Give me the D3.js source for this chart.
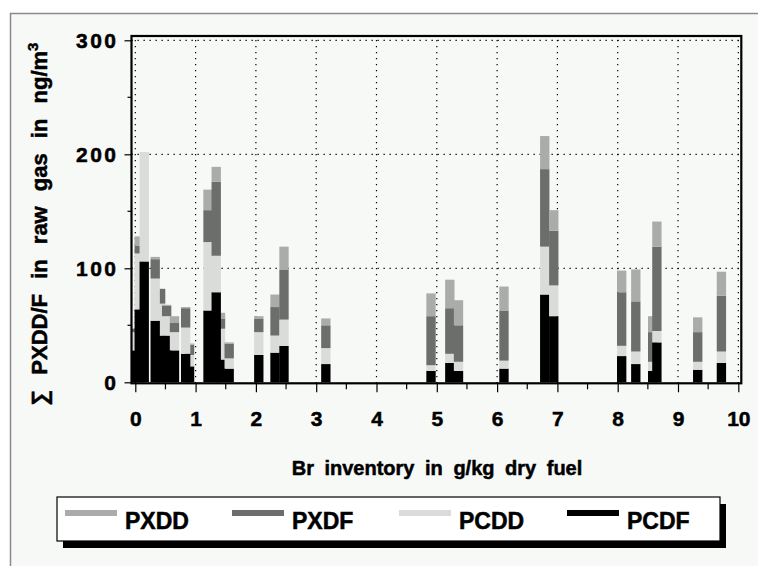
<!DOCTYPE html>
<html>
<head>
<meta charset="utf-8">
<script src="https://cdn.jsdelivr.net/npm/d3@7"></script>
<style>
  html, body { margin: 0; padding: 0; background: #ffffff; }
  svg { display: block; font-family: "Liberation Sans", Arial, sans-serif; font-weight: bold; }
</style>
</head>
<body>
<div id="chart"></div>
<script>
// Br inventory (x) of each measurement, in drawing order (later bars overlap earlier ones)
const brInventory = [-0.01, 0.065, 0.148, 0.42, 0.33, 0.52, 0.65, 0.90, 0.835, 1.206, 1.413, 1.342, 1.557,
  2.048, 2.317, 2.466, 3.16, 4.904, 5.216, 5.36, 6.114, 6.79, 6.94, 8.066, 8.30, 8.58, 8.65, 9.327, 9.72];

// stacked values in ng/m3, from bottom to top
const pcdf = [28, 64, 106, 41, 54, 41, 28, 14, 25, 63, 20, 79, 12,
  24, 26, 32, 16, 10, 17, 10, 12, 77, 58, 23, 16, 10, 35, 11, 17];
const pcdd = [16, 49, 96, 28, 37, 17, 16, 10, 23, 60, 27, 32, 9,
  20, 15, 23, 14, 5, 8, 8, 7, 42, 27, 9, 11, 8, 10, 7, 10];
const pxdf = [3, 7, 0, 13, 17, 9, 8, 9, 17, 28, 9, 65, 13,
  12, 25, 44, 20, 43, 40, 32, 44, 68, 48, 47, 44, 26, 74, 26, 49];
const pxdd = [0, 8, 0, 0, 2, 1, 6, 1, 1, 18, 5, 13, 1,
  2, 11, 20, 6, 20, 25, 22, 21, 29, 18, 19, 28, 14, 22, 13, 21];

const stackKeys = ["PCDF", "PCDD", "PXDF", "PXDD"];
const legendKeys = ["PXDD", "PXDF", "PCDD", "PCDF"];
const xTickValues = d3.range(0, 11);
const yTickValues = [0, 100, 200, 300];

const colors = { PXDD: "#aaacaa", PXDF: "#6b6e6b", PCDD: "#d9dcd9", PCDF: "#000000" };

const W = 758, H = 566;
const plot = { left: 135.3, right: 738.3, top: 40.3, bottom: 382.3 };
const barWidth = 0.155; // in x units

const rows = brInventory.map((x, i) => ({
  x: x, PCDF: pcdf[i], PCDD: pcdd[i], PXDF: pxdf[i], PXDD: pxdd[i]
}));

const svg = d3.select("#chart").append("svg")
  .attr("width", W)
  .attr("height", H);

// background + outer grey border
svg.append("rect").attr("x", 10).attr("y", 13).attr("width", W - 10).attr("height", H - 13).attr("fill", "#f7f9f7");
svg.append("line").attr("x1", 10).attr("x2", W).attr("y1", 13.5).attr("y2", 13.5).attr("stroke", "#8a8a8a").attr("stroke-width", 1.5);
svg.append("line").attr("x1", 10.5).attr("x2", 10.5).attr("y1", 13).attr("y2", H).attr("stroke", "#8a8a8a").attr("stroke-width", 1.5);

const x = d3.scaleLinear().domain([0, 10]).range([plot.left, plot.right]);
const y = d3.scaleLinear().domain([0, 300]).range([plot.bottom, plot.top]);

const frame = { x0: 131.5, x1: 741.3, y0: 36, y1: 383.3 };

svg.append("clipPath").attr("id", "clip")
  .append("rect")
  .attr("x", frame.x0).attr("y", frame.y0)
  .attr("width", frame.x1 - frame.x0).attr("height", frame.y1 - frame.y0);

// dotted grid
const grid = svg.append("g").attr("stroke", "#000").attr("stroke-width", 1.2).attr("stroke-dasharray", "1.3,4.7");
grid.selectAll("line.v").data(xTickValues).enter().append("line")
  .attr("class", "v")
  .attr("x1", d => x(d)).attr("x2", d => x(d))
  .attr("y1", frame.y1).attr("y2", frame.y0 + 2);
grid.selectAll("line.h").data(yTickValues.filter(d => d > 0)).enter().append("line")
  .attr("class", "h")
  .attr("x1", frame.x0).attr("x2", frame.x1)
  .attr("y1", d => y(d)).attr("y2", d => y(d));

// stacked bars
const stack = d3.stack().keys(stackKeys)(rows);
const bars = svg.append("g").attr("clip-path", "url(#clip)");
rows.forEach((row, i) => {
  stack.forEach(layer => {
    const seg = layer[i];
    if (seg[1] - seg[0] <= 0) return;
    bars.append("rect")
      .attr("x", x(row.x - barWidth / 2))
      .attr("width", x(barWidth) - x(0))
      .attr("y", y(seg[1]))
      .attr("height", y(seg[0]) - y(seg[1]))
      .attr("fill", colors[layer.key]);
  });
});

// plot frame
svg.append("rect")
  .attr("x", frame.x0).attr("y", frame.y0)
  .attr("width", frame.x1 - frame.x0).attr("height", frame.y1 - frame.y0)
  .attr("fill", "none").attr("stroke", "#000").attr("stroke-width", 2.2);

// heavier text, like the original bitmap font
const heavy = sel => sel.attr("stroke", "#000").attr("stroke-width", 0.5).attr("fill", "#000");

// y axis
const yAxis = svg.append("g")
  .attr("transform", `translate(${frame.x0},0)`)
  .call(d3.axisLeft(y).tickValues(yTickValues).tickSize(7).tickPadding(6).tickFormat(d3.format("d")));
yAxis.select(".domain").remove();
yAxis.selectAll(".tick line").attr("stroke-width", 1.2);
yAxis.selectAll("text").attr("font-size", 21).attr("font-family", null).attr("letter-spacing", 2.5).call(heavy);
svg.append("g").selectAll("line").data([50, 150, 250]).enter().append("line")
  .attr("x1", frame.x0 - 4).attr("x2", frame.x0)
  .attr("y1", d => y(d)).attr("y2", d => y(d))
  .attr("stroke", "#000").attr("stroke-width", 1.2);

// x axis
const xAxis = svg.append("g")
  .attr("transform", `translate(0,${frame.y1})`)
  .call(d3.axisBottom(x).tickValues(xTickValues).tickSize(9).tickPadding(19));
xAxis.select(".domain").remove();
xAxis.selectAll(".tick line").attr("stroke-width", 1.2);
xAxis.selectAll("text").attr("font-size", 21).attr("font-family", null).call(heavy);
svg.append("g").selectAll("line").data(d3.range(0.5, 10, 1)).enter().append("line")
  .attr("x1", d => x(d)).attr("x2", d => x(d))
  .attr("y1", frame.y1).attr("y2", frame.y1 + 6)
  .attr("stroke", "#000").attr("stroke-width", 1.2);

// axis titles
svg.append("text")
  .attr("x", 437).attr("y", 475)
  .attr("text-anchor", "middle")
  .attr("font-size", 20)
  .attr("word-spacing", 5)
  .call(heavy)
  .text("Br inventory in g/kg dry fuel");

const yTitle = svg.append("text")
  .attr("transform", "translate(47,224) rotate(-90)")
  .attr("text-anchor", "middle")
  .attr("font-size", 22)
  .attr("word-spacing", 9)
  .call(heavy);
yTitle.append("tspan").text("\u2211 PXDD/F in raw gas in ng/m");
yTitle.append("tspan").attr("dy", -9).attr("font-size", 15).text("3");

// legend
const lg = { x: 57, y: 497, w: 663, h: 44 };
svg.append("rect").attr("x", lg.x + 6).attr("y", lg.y + 7).attr("width", lg.w).attr("height", lg.h).attr("fill", "#000");
svg.append("rect").attr("x", lg.x).attr("y", lg.y).attr("width", lg.w).attr("height", lg.h)
  .attr("fill", "#ffffff").attr("stroke", "#000").attr("stroke-width", 1.2);
const itemX = [65, 232, 399, 567];
const items = svg.append("g").selectAll("g").data(legendKeys).enter().append("g")
  .attr("transform", (d, i) => `translate(${itemX[i]},${lg.y})`);
items.append("rect").attr("x", 0).attr("y", 13).attr("width", 52).attr("height", 6).attr("fill", d => colors[d]);
items.append("text").attr("x", 60).attr("y", 32).attr("font-size", 23).call(heavy).text(d => d);
</script>
</body>
</html>
